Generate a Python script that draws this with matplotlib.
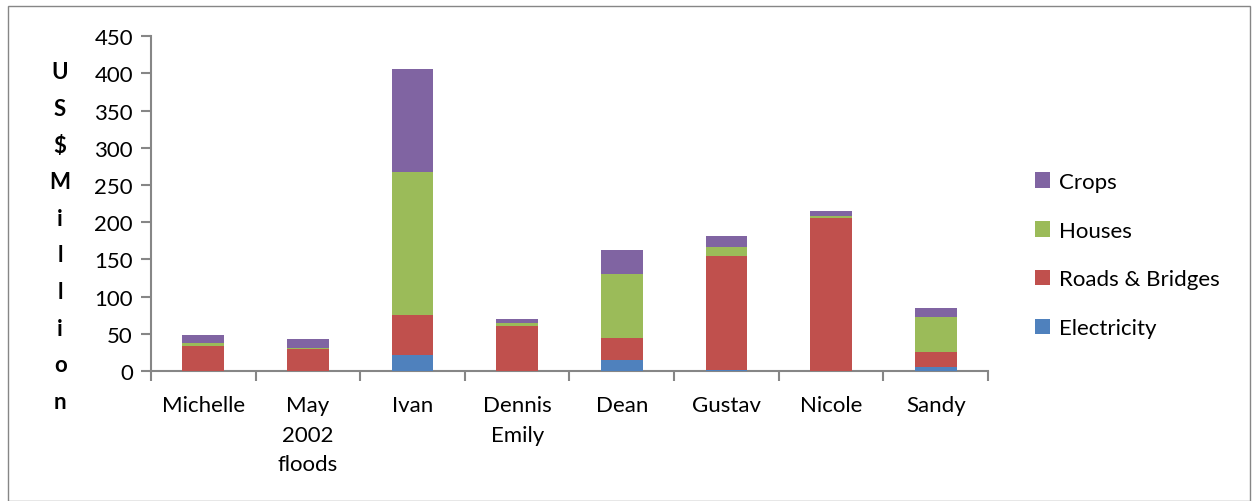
import matplotlib
matplotlib.use("Agg")
import matplotlib.pyplot as plt
import numpy as np
from matplotlib.patches import Rectangle

# Data (US$ million)
storms = ["Michelle", "May\n2002\nfloods", "Ivan", "Dennis\nEmily", "Dean", "Gustav", "Nicole", "Sandy"]
electricity = [0, 0, 22, 0, 15, 1, 0, 6]
roads_bridges = [33, 29, 53, 60, 29, 153, 205, 19]
houses = [5, 2, 193, 4, 86, 13, 3, 47]
crops = [11, 12, 138, 6, 33, 14, 7, 13]

plt.rcParams["font.family"] = ["Lato", "DejaVu Sans"]
grey = "#868686"

fig = plt.figure(figsize=(12.53, 5.02), dpi=100)
ax = fig.add_axes([0.1205, 0.259, 0.668, 0.667])

x = np.arange(len(storms))
width = 0.4
series = [
    ("Electricity", electricity, "#4F81BD"),
    ("Roads & Bridges", roads_bridges, "#C0504D"),
    ("Houses", houses, "#9BBB59"),
    ("Crops", crops, "#8064A2"),
]
bottom = np.zeros(len(storms))
for name, vals, color in series:
    ax.bar(x, vals, width, bottom=bottom, color=color, label=name, zorder=3)
    bottom += np.array(vals)

ax.set_xlim(-0.5, len(storms) - 0.5)
ax.set_ylim(0, 450)
ax.set_yticks(range(0, 451, 50))
ax.set_xticks(x)
ax.set_xticklabels(storms, fontsize=16, linespacing=1.62)
ax.set_xticks(np.arange(-0.5, len(storms), 1), minor=True)
ax.tick_params(axis="x", which="major", length=0, pad=17)
ax.tick_params(axis="x", which="minor", length=7, color=grey, width=1.5)
ax.tick_params(axis="y", length=7, color=grey, width=1.5, labelsize=16, pad=6)

for side in ["top", "right"]:
    ax.spines[side].set_visible(False)
for side in ["left", "bottom"]:
    ax.spines[side].set_color(grey)
    ax.spines[side].set_linewidth(1.5)

# vertical stacked y label
ylabel = "\n".join(list("US$Million"))
fig.text(0.048, 0.876, ylabel, fontsize=16, fontweight="bold", ha="center", va="top",
         linespacing=1.92)

handles, labels = ax.get_legend_handles_labels()
leg = fig.legend(handles[::-1], labels[::-1], loc="center left", bbox_to_anchor=(0.81, 0.49),
                 frameon=False, fontsize=16, labelspacing=1.3, handlelength=0.7,
                 handleheight=0.7, handletextpad=0.4)

fig.patches.append(Rectangle((0.006, 0.0), 0.992, 0.986, transform=fig.transFigure,
                             fill=False, edgecolor=grey, linewidth=1.0))

fig.savefig("out.png", dpi=100)
